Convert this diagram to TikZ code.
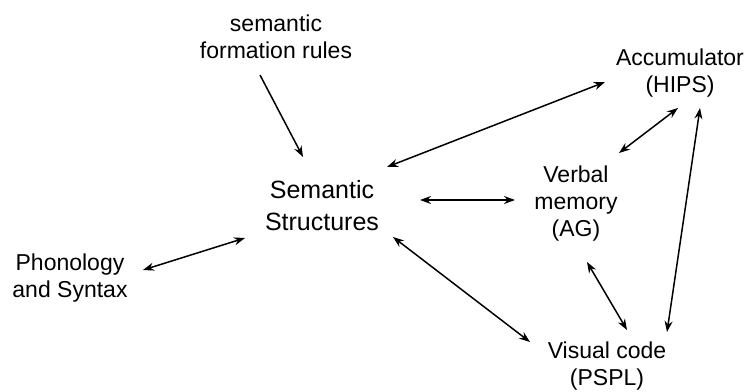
\documentclass[tikz,border=0pt]{standalone}
\usepackage{fontspec}
\setmainfont{Liberation Sans}
\usetikzlibrary{arrows.meta}
\begin{document}
\begin{tikzpicture}[x=1pt,y=-1pt,
  lbl/.style={align=center,inner sep=0pt,font=\fontsize{23}{27}\selectfont},
  biglbl/.style={align=center,inner sep=0pt,font=\fontsize{25}{32}\selectfont},
  conn/.style={line width=1.5pt,{Stealth[length=11pt,width=8pt]}-{Stealth[length=11pt,width=8pt]}},
  oneway/.style={line width=1.5pt,-{Stealth[length=11pt,width=8pt]}}]
\useasboundingbox[fill=white] (0,0) rectangle (747,391);
\node[lbl] (rules) at (276,37) {semantic\\formation rules};
\node[biglbl] (sem) at (322,206) {Semantic\\Structures};
\node[lbl] (acc) at (680,73) {Accumulator\\(HIPS)};
\node[lbl] (verb) at (576,204) {Verbal\\memory\\(AG)};
\node[lbl] (vis) at (607,366) {Visual code\\(PSPL)};
\node[lbl] (phon) at (70,278) {Phonology\\and Syntax};
\draw[oneway] ([shift={(-16,38)}]rules.center) -- ([shift={(-19,-49)}]sem.center);
\draw[conn] ([shift={(65,-39)}]sem.center) -- ([shift={(-75,9)}]acc.center);
\draw[conn] ([shift={(98,-6)}]sem.center) -- ([shift={(-61,-4)}]verb.center);
\draw[conn] ([shift={(-2,35)}]acc.center) -- ([shift={(43,-51)}]verb.center);
\draw[conn] ([shift={(20,35)}]acc.center) -- ([shift={(60,-34)}]vis.center);
\draw[conn] ([shift={(11,58)}]verb.center) -- ([shift={(20,-36)}]vis.center);
\draw[conn] ([shift={(71,31)}]sem.center) -- ([shift={(-77,-24)}]vis.center);
\draw[conn] ([shift={(73,-8)}]phon.center) -- ([shift={(-77,32)}]sem.center);
\end{tikzpicture}
\end{document}
